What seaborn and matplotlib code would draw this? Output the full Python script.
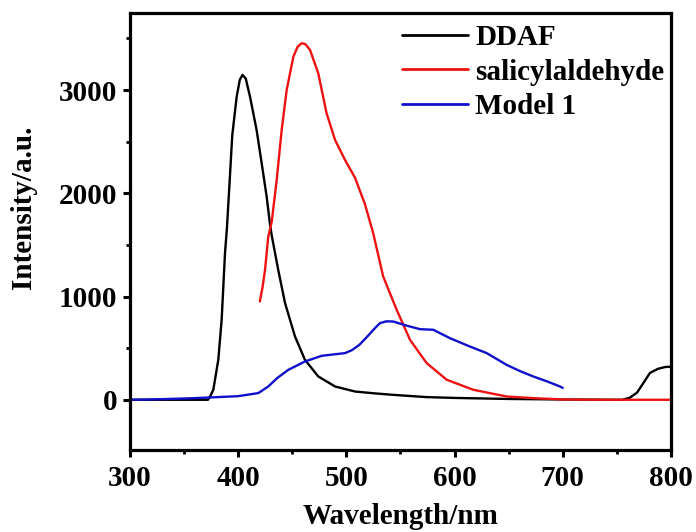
import numpy as np
import pandas as pd
import matplotlib
matplotlib.use("Agg")
import matplotlib.pyplot as plt
from matplotlib.ticker import MultipleLocator
import seaborn as sns

# Emission spectra (wavelength in nm, intensity in a.u.)
ddaf_wl = [300, 350, 372, 374, 377, 381.6, 384.7, 387.8, 389.5, 392, 394.5, 398.6, 401.5, 404,
           407, 410.9, 417, 421.7, 426.3, 429.4, 431, 437, 443.3, 452.5, 461.7, 474, 489.5,
           508, 526.4, 543, 574, 600, 650, 700, 755, 762, 768.7, 775, 780.6, 788, 795, 800]
ddaf_int = [0, 0, 0, 32, 97, 387, 774, 1420, 1650, 2100, 2560, 2936, 3100, 3146,
            3110, 2936, 2614, 2291, 1968, 1700, 1590, 1258, 936, 613, 387, 226, 129,
            80, 62, 48, 26, 18, 8, 3, 0, 20, 70, 170, 260, 300, 318, 320]

sal_wl = [420, 422.5, 424.8, 427.8, 431, 435.6, 440.2, 444.8, 451, 455, 458.7, 462, 466.4, 474,
          481.7, 489.5, 498.7, 508, 513, 517, 524.8, 534, 546.5, 558.8, 574.2, 592.7, 617.3,
          648, 672.7, 700, 750, 800]
sal_int = [952, 1090, 1258, 1581, 1725, 2130, 2614, 3000, 3323, 3420, 3453, 3445, 3388, 3162,
           2775, 2517, 2323, 2150, 2010, 1900, 1613, 1194, 871, 581, 355, 194, 97,
           32, 16, 3, 0, 0]

m1_wl = [300, 330, 360, 400, 418.6, 427.8, 436, 446.3, 461.7, 477.2, 498.7, 505, 512, 520,
         526.4, 531, 537, 543.3, 555, 568, 580.3, 595.7, 612, 629.7, 648, 660, 672.7, 685,
         697.4, 700]
m1_int = [0, 6, 16, 35, 65, 129, 210, 290, 371, 426, 452, 480, 532, 620,
          694, 742, 760, 758, 720, 684, 678, 597, 525, 452, 339, 280, 226, 180,
          129, 115]

series_names = ["DDAF", "salicylaldehyde", "Model 1"]
series_colors = ["#000000", "#ee1111", "#1010cc"]

frames = []
for name, wl, inten in zip(series_names, [ddaf_wl, sal_wl, m1_wl], [ddaf_int, sal_int, m1_int]):
    frames.append(pd.DataFrame({"Wavelength": wl, "Intensity": inten, "Sample": name}))
df = pd.concat(frames, ignore_index=True)

sns.set_style("ticks")
plt.rcParams["font.family"] = ["Liberation Serif", "DejaVu Serif"]
plt.rcParams["font.weight"] = "bold"
for key in ["text.color", "axes.labelcolor", "xtick.color", "ytick.color", "axes.edgecolor"]:
    plt.rcParams[key] = "black"

fig = plt.figure(figsize=(6.96, 5.32), dpi=100)
ax = fig.add_axes([0.1868, 0.154, 0.964 - 0.1868, 0.9756 - 0.154])

sns.lineplot(data=df, x="Wavelength", y="Intensity", hue="Sample", hue_order=series_names,
             palette=series_colors, linewidth=1.7, sort=False, estimator=None, ax=ax)

ax.set_xlim(300, 800)
ax.set_ylim(-487, 3746)
ax.xaxis.set_major_locator(MultipleLocator(100))
ax.xaxis.set_minor_locator(MultipleLocator(50))
ax.yaxis.set_major_locator(MultipleLocator(1000))
ax.yaxis.set_minor_locator(MultipleLocator(500))
ax.set_yticks([0, 1000, 2000, 3000])

for side in ["left", "right", "top", "bottom"]:
    ax.spines[side].set_linewidth(2.3)
ax.tick_params(which="major", direction="out", length=5, width=2.2, labelsize=21, pad=4,
               top=False, right=False)
ax.tick_params(axis="x", which="major", pad=6)
ax.tick_params(which="minor", direction="out", length=3, width=2.0, top=False, right=False)
for lbl in ax.get_xticklabels() + ax.get_yticklabels():
    lbl.set_fontweight("bold")

ax.set_xlabel("Wavelength/nm", fontsize=21, fontweight="bold")
ax.set_ylabel("Intensity/a.u.", fontsize=21, fontweight="bold")
ax.xaxis.set_label_coords(0.5, -0.122)
ax.yaxis.set_label_coords(-0.172, 0.556)

leg = ax.legend(loc="upper left", bbox_to_anchor=(0.503, 0.974), frameon=False,
                prop={"size": 21, "weight": "bold"}, handlelength=2.27, handletextpad=0.24,
                labelspacing=0.25, borderaxespad=0.0, borderpad=0.0)
for h in leg.get_lines():
    h.set_linewidth(2.0)

fig.savefig("out.png", dpi=100)
